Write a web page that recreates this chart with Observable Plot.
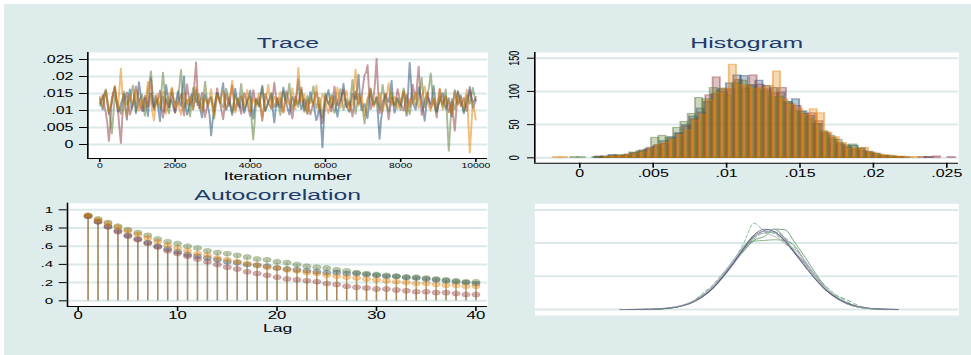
<!DOCTYPE html>
<html>
<head>
<meta charset="utf-8">
<script src="https://cdn.jsdelivr.net/npm/d3@7"></script>
<script src="https://cdn.jsdelivr.net/npm/@observablehq/plot@0.6"></script>
<style>
  html, body { margin: 0; padding: 0; background: #ffffff; }
  #root { position: relative; width: 971px; height: 355px; overflow: hidden; background: #ffffff; }
  #bg { position: absolute; left: 4px; top: 4px; width: 967px; height: 351px; background: #dfecec; }
  #stage { position: absolute; left: 0; top: 0; height: 355px; transform-origin: 0 0; }
  #stage svg { position: absolute; }
</style>
</head>
<body>
<div id="root"><div id="bg"></div><div id="stage"></div></div>
<script>
// ---------------- data ----------------
const chainNames = ["chain 1", "chain 2", "chain 3", "chain 4"];
const chainColors = ["#1a476f", "#90353b", "#55752f", "#e37e00"];

// Trace: value (in units of 0.001) every traceStep iterations, iterations 0..10000
const traceStep = 40;
const traceBlue = [
  13.5,11.6,10.2,14.1,15.8,12.3,8.9,10.8,12.4,15.2,17.1,13.0,9.6,9.9,11.8,13.4,14.9,11.1,7.2,13.8,
  16.3,10.5,12.0,14.6,9.1,13.2,18.4,15.0,11.2,9.7,13.7,12.1,8.3,13.9,15.1,11.8,10.6,14.4,12.9,10.1,
  6.8,12.9,14.2,9.6,17.6,15.0,10.9,13.3,12.5,10.7,9.4,13.5,15.7,12.0,11.3,16.4,20.1,11.9,8.7,10.2,
  13.1,14.8,10.4,12.6,16.2,11.5,12.7,9.8,7.9,12.2,14.6,13.0,11.1,8.4,2.6,7.0,9.8,12.9,15.3,13.6,
  12.2,15.4,18.1,12.7,10.1,11.6,13.9,10.9,8.6,12.3,16.5,13.8,11.7,10.6,14.3,12.5,9.2,11.0,12.8,14.1,
  15.9,10.9,7.5,11.2,13.3,12.4,11.0,14.7,17.4,13.1,9.9,11.3,12.6,13.5,14.8,10.2,6.4,10.8,13.6,11.9,
  10.7,14.0,16.8,13.9,12.1,10.4,8.8,12.0,14.1,12.7,11.5,15.3,19.2,13.6,10.3,11.6,13.4,10.9,9.0,12.5,
  15.5,13.1,12.3,9.4,7.1,8.6,11.9,6.3,-0.9,7.4,13.0,14.2,16.1,12.8,10.8,12.2,14.4,10.7,8.1,11.4,
  12.7,14.5,17.9,13.3,11.4,10.3,9.5,12.7,15.0,14.1,13.2,16.0,20.6,13.8,10.0,11.1,12.0,9.6,7.7,12.4,
  16.6,13.2,11.6,12.5,13.8,8.1,1.6,7.4,10.5,12.8,14.7,13.3,12.4,15.1,18.8,12.0,9.3,11.4,13.5,12.1,
  11.3,13.7,15.6,11.5,8.4,15.9,24.1,17.6,12.2,11.3,10.2,13.4,16.9,14.6,13.1,9.9,6.9,11.2,14.0,12.6,
  11.8,14.2,17.3,13.0,9.7,11.4,12.6,13.9,15.2,12.3,10.4,11.6,13.7,10.5,8.2,12.9,16.0,13.4,11.9,13.0,
  14.5,11.7,9.1,10.8,12.8,14.5,17.0,13.6,10.6,11.9,13.3];
const traceRed = [
  12.1,13.0,14.6,11.5,9.3,6.2,1.0,5.8,13.8,15.1,16.7,12.6,10.5,4.9,0.4,8.3,12.9,13.7,15.4,11.9,
  8.7,10.2,11.6,14.3,17.2,15.0,13.0,11.1,9.8,12.4,14.4,13.0,11.2,15.2,19.6,14.0,10.1,11.7,12.8,13.6,
  15.9,11.3,7.8,10.6,13.5,12.1,11.0,14.2,16.4,12.8,9.2,10.9,12.3,13.4,14.9,11.2,8.5,13.1,17.8,14.5,
  11.4,12.6,13.2,18.5,24.2,14.8,10.6,12.9,15.3,11.0,8.0,10.5,12.7,13.5,14.1,11.8,9.7,13.2,16.6,14.0,
  12.0,9.6,7.4,11.0,14.8,13.1,11.3,14.4,17.5,13.6,10.2,11.9,13.6,11.2,9.0,12.3,15.2,13.8,12.4,10.3,
  8.3,12.0,16.1,13.4,11.7,12.8,13.9,10.4,6.9,10.7,15.0,13.7,12.2,11.5,10.4,14.0,18.3,14.6,11.1,12.4,
  13.7,11.6,9.5,12.9,15.8,13.8,12.5,10.1,7.6,11.2,14.2,13.0,11.9,14.3,16.9,13.3,10.0,11.6,13.1,10.7,
  8.8,10.5,12.6,14.1,15.5,12.9,10.7,8.7,6.2,10.3,14.6,13.2,12.0,11.0,9.6,13.3,17.1,14.0,11.5,12.2,
  13.3,14.6,16.2,13.5,10.9,11.9,12.8,10.6,8.1,12.1,15.7,13.7,11.8,12.8,14.0,17.2,20.4,21.1,23.4,15.6,
  10.3,12.0,13.6,18.4,25.3,16.2,9.1,10.8,12.5,13.8,15.1,11.4,7.3,10.5,13.9,12.7,11.4,13.5,16.4,14.1,
  12.1,11.0,9.9,12.3,14.7,13.0,11.0,14.2,17.7,15.1,13.2,18.0,23.0,14.9,8.6,10.9,12.9,14.2,15.3,12.6,
  10.6,11.8,13.4,10.3,7.9,12.1,16.3,13.9,11.7,12.8,14.3,11.6,9.4,11.0,12.7,8.2,4.0,9.9,15.6,13.2,
  11.2,12.4,13.8,11.6,9.8,13.0,16.1,14.2,12.3,13.1,14.0];
const traceGreen = [
  11.4,12.5,13.9,15.0,16.3,13.2,10.0,7.1,3.2,8.8,14.5,13.4,12.2,10.6,8.9,12.0,15.6,13.7,11.7,12.4,
  13.0,15.1,17.4,13.6,9.7,11.0,12.6,13.8,14.8,11.7,8.4,12.2,16.0,18.3,21.6,15.2,11.1,12.4,13.5,11.6,
  10.3,15.9,21.2,16.0,12.8,11.1,9.1,12.3,15.2,13.4,11.9,12.8,14.0,17.5,22.0,15.1,10.7,12.0,13.3,10.9,
  8.2,12.6,16.7,14.0,12.4,13.6,14.9,12.2,10.5,14.1,18.6,13.9,11.6,12.7,13.8,10.4,7.6,11.5,15.0,13.9,
  12.9,11.8,10.8,13.5,16.5,14.6,13.1,11.4,9.3,11.9,14.6,13.0,11.5,14.2,17.9,13.6,10.2,11.3,12.7,13.5,
  14.2,6.3,1.4,7.0,13.6,12.4,11.3,14.1,16.8,12.9,9.8,11.0,12.0,13.6,15.3,12.7,10.9,12.3,13.7,11.1,
  8.6,12.3,15.9,13.7,12.3,14.8,18.0,13.4,10.4,11.9,13.2,12.0,11.0,13.6,16.2,12.9,9.5,11.9,14.4,13.0,
  12.1,14.5,17.2,13.3,10.6,12.1,13.9,10.7,7.9,11.8,15.1,13.2,11.8,13.0,14.7,11.8,9.2,11.0,12.6,14.1,
  16.4,13.0,10.1,11.9,13.4,12.0,11.2,15.0,19.1,13.8,9.0,11.8,14.9,13.5,12.5,9.9,6.1,9.7,13.0,14.3,
  15.7,13.2,11.5,12.7,14.2,12.1,10.4,13.9,17.6,14.5,12.0,10.9,9.6,12.4,15.4,13.1,11.3,12.6,13.8,11.7,
  10.0,13.1,16.6,14.2,12.7,10.9,8.8,11.6,14.5,13.0,11.6,12.2,13.1,15.9,19.7,14.6,10.8,12.7,15.0,17.2,
  21.0,15.8,12.2,10.8,9.4,11.9,14.1,12.5,11.0,13.6,16.3,6.8,-1.9,5.4,13.5,12.0,10.3,13.1,15.8,14.0,
  12.4,11.2,9.7,12.1,14.6,13.3,11.9,14.2,16.7,14.5,12.8];
const traceOrange = [
  14.2,12.7,11.0,13.4,15.9,12.6,9.4,11.3,13.1,15.0,17.3,13.9,10.2,16.1,22.4,14.8,12.5,10.1,8.1,11.6,
  14.7,13.0,11.8,14.4,16.2,12.5,9.9,11.8,13.4,12.0,10.6,14.7,18.5,15.2,12.2,9.5,7.0,11.3,14.9,12.9,
  11.5,13.6,15.6,12.2,9.0,11.4,13.8,15.3,16.9,13.3,10.8,11.8,12.6,10.4,8.7,12.3,15.3,13.7,11.9,13.1,
  14.0,12.2,10.1,13.6,17.0,14.6,12.8,11.1,9.6,11.9,13.5,12.5,11.2,13.9,16.4,12.1,8.4,11.7,14.6,13.5,
  12.3,14.1,15.8,12.9,10.5,11.9,13.0,15.6,18.8,13.4,9.3,11.0,12.9,13.7,14.5,12.8,11.4,13.6,16.1,12.6,
  9.7,11.8,13.6,12.5,11.1,13.9,15.2,11.4,8.0,10.6,12.7,14.9,17.7,13.8,10.9,12.5,14.1,13.1,12.0,13.8,
  15.5,12.0,9.2,11.5,13.3,12.4,11.6,13.9,16.6,13.2,10.3,16.1,22.6,16.4,12.4,13.5,14.8,11.6,8.9,11.7,
  13.9,12.8,11.4,14.2,17.5,13.6,10.0,12.7,15.0,13.9,12.8,10.8,9.1,11.5,14.3,12.9,11.7,14.0,16.8,13.2,
  10.7,12.1,13.2,14.3,15.9,12.6,9.8,11.1,12.1,16.4,22.1,15.8,11.3,12.9,14.6,11.2,8.3,11.1,13.7,14.8,
  16.3,13.5,10.9,11.8,12.6,13.7,15.1,12.2,9.5,11.4,13.0,15.2,18.1,14.4,11.6,12.9,14.2,12.3,10.4,11.9,
  12.9,14.2,16.0,12.4,9.0,11.3,13.4,12.6,11.8,13.7,15.4,12.8,10.6,12.2,14.0,15.3,17.2,14.6,12.3,11.0,
  9.8,11.7,13.7,12.6,11.1,13.8,16.5,13.3,10.2,12.1,14.4,13.3,12.5,10.7,8.6,12.0,15.7,13.6,11.6,12.9,
  13.9,12.3,10.8,13.5,16.2,6.4,-2.4,5.1,12.7,9.9,7.2];
const traceXTicks = [0, 2000, 4000, 6000, 8000, 10000];
const traceYTicks = [0, 0.005, 0.01, 0.015, 0.02, 0.025];

// Histogram: counts per bin of width histBinWidth, starting at each chain's histStart
const histBinWidth = 0.0005;
const histStart = [-0.0025, -0.0024, -0.0026, -0.0023];
const histBlue = [0,0,0,0,0,0,0,1,2,4, 2,3,7,9,13,17,25,31,37,49, 62,74,84,96,104,112,124,123,109,116,
  108,105,98,84,88,70,63,51,38,30, 22,17,18,14,9,6,3,2,1,1, 0,0,1,0,0,0];
const histRed = [0,0,0,0,0,0,0,2,1,3, 3,5,6,11,15,19,21,28,36,47, 58,68,94,121,99,103,117,104,124,110,
  103,97,105,81,78,66,67,55,36,27, 20,15,12,10,7,4,2,2,1,0, 0,1,1,2,0,1];
const histGreen = [0,0,0,0,1,1,0,1,1,2, 4,4,8,10,12,30,33,30,45,54, 66,90,88,105,102,94,112,116,109,103,
  100,91,92,84,70,69,59,50,40,33, 27,19,20,14,8,6,3,2,1,0, 0,0,0,0,0,0];
const histOrange = [0,1,1,0,0,0,0,0,1,2, 2,4,6,8,13,18,22,27,34,41, 56,64,86,97,104,140,110,108,103,105,
  108,130,88,80,74,64,73,67,38,31, 22,14,13,15,8,5,4,2,2,1, 1,0,0,0,0,0];
const histXTicks = [0, 0.005, 0.01, 0.015, 0.02, 0.025];
const histYTicks = [0, 50, 100, 150];

// Autocorrelation, lags 1..40
const acfBlue = [0.93,0.87,0.82,0.77,0.72,0.68,0.64,0.60,0.57,0.54,0.51,0.49,0.47,0.45,0.43,0.42,0.40,0.39,0.38,0.36,
  0.35,0.34,0.33,0.32,0.31,0.31,0.30,0.30,0.29,0.28,0.27,0.27,0.26,0.25,0.24,0.23,0.22,0.21,0.20,0.19];
const acfRed = [0.93,0.87,0.81,0.76,0.71,0.67,0.63,0.59,0.55,0.52,0.49,0.46,0.43,0.40,0.37,0.35,0.32,0.30,0.28,0.26,
  0.24,0.23,0.22,0.21,0.19,0.18,0.16,0.15,0.14,0.13,0.13,0.12,0.11,0.10,0.10,0.09,0.09,0.08,0.07,0.07];
const acfGreen = [0.94,0.90,0.86,0.82,0.78,0.75,0.72,0.68,0.65,0.63,0.60,0.58,0.55,0.53,0.52,0.50,0.48,0.46,0.45,0.43,
  0.42,0.40,0.38,0.37,0.36,0.34,0.33,0.31,0.30,0.29,0.28,0.27,0.26,0.26,0.25,0.24,0.23,0.22,0.21,0.21];
const acfOrange = [0.94,0.89,0.85,0.81,0.77,0.73,0.69,0.65,0.61,0.58,0.55,0.52,0.50,0.47,0.45,0.43,0.41,0.39,0.37,0.36,
  0.34,0.33,0.31,0.30,0.28,0.27,0.26,0.25,0.24,0.23,0.22,0.21,0.20,0.19,0.19,0.18,0.17,0.17,0.16,0.16];
const acfXTicks = [0, 10, 20, 30, 40];
const acfYTicks = [0, 0.2, 0.4, 0.6, 0.8, 1];

// Density curves
const densX = [-0.0025,-0.0015,-0.0005,0.0005,0.0015,0.0025,0.0035,0.0045,0.0055,0.0065,0.0075,0.0085,0.0095,0.0105,
  0.0115,0.0125,0.0135,0.0145,0.0155,0.0165,0.0175,0.0185,0.0195,0.0205,0.0215,0.0225,0.0235,0.0245];
const densGray1 = [0,0.1,0.3,0.6,1.4,3.0,6.0,11.5,21,34,52,73,94,110,118,116,104,86,66,46,29,17,9,4.5,2,0.8,0.3,0.1];
const densGray2 = [0,0.1,0.2,0.5,1.2,2.4,5.2,10.5,19,32,49,69,90,109,119,121,107,85,70,50,30,17,9,4.5,2.0,1.0,0.4,0.1];
const densGray3 = [0,0,0.2,0.4,1.0,2.8,5.8,11.5,21,35,54,74,95,111,115,110,100,90,72,49,31,19,10,5,2.2,0.9,0.3,0.1];
const densGray4 = [0,0.1,0.2,0.4,1.1,2.5,5.3,10.5,19.5,32,50,70,92,112,121,117,103,84,64,45,29,18,10,5,2.3,1.0,0.4,0.2];
const densGreen1 = [0,0,0.1,0.3,1.0,2.4,5.5,11,20,32,50,70,88,104,110,121,120,100,78,54,33,19,9,4,1.8,0.7,0.2,0];
const densGreen2 = [0,0,0.2,0.5,1.3,3,6,12,22,35,53,74,93,103,104,105,104,95,72,50,31,18,9,4,1.5,0.5,0.1,0];
const densDash1 = [0,0,0.1,0.3,1,2.5,5.5,11,21,34,52,73,100,130,118,114,100,85,68,50,35,22,12,5,2,0.6,0.2,0];
const densDash2 = [0,0,0.1,0.4,1.1,2.8,6,12,24,37,55,72,89,106,116,117,108,93,71,48,31,21,15,7,2.5,0.8,0.2,0];
const densYGrid = [0, 50, 100, 150];

// ---------------- styling ----------------
const S = 1.6;                 // horizontal stretch of the whole graph
const FONT = "'Liberation Sans', Arial, Helvetica, sans-serif";
const GRID = "#dce9ea";
const TITLE = "#1c3b6b";
const stage = document.getElementById("stage");
stage.style.width = (971 / S) + "px";
stage.style.transform = `scaleX(${S})`;

const style = {background: "transparent", fontFamily: FONT, color: "black", overflow: "visible"};
const stataFmt = d => d === 0 ? "0" : String(+d.toFixed(6)).replace(/^0\./, ".").replace(/^-0\./, "-.");

function place(svg, left, top) {
  svg.style.left = left + "px";
  svg.style.top = top + "px";
  stage.appendChild(svg);
}

// ---------------- Trace ----------------
{
  const xd = [-319, 10319], yd = [-0.00412, 0.02706];
  const chains = [traceBlue, traceRed, traceGreen, traceOrange];
  const svg = Plot.plot({
    width: 320, height: 175, marginLeft: 54.4, marginRight: 15.6, marginTop: 32, marginBottom: 37,
    style,
    x: {domain: xd, axis: null},
    y: {domain: yd, axis: null},
    marks: [
      Plot.frame({fill: "white", stroke: "none"}),
      Plot.ruleY(traceYTicks, {stroke: GRID, strokeWidth: 2}),
      ...chains.map((vals, c) => Plot.line(vals.map((v, i) => ({iter: i * traceStep, v: v / 1000})),
        {x: "iter", y: "v", stroke: chainColors[c], strokeOpacity: 0.5, strokeWidth: 1.2})),
      Plot.ruleX([xd[0]], {stroke: "black", strokeWidth: 1}),
      Plot.ruleY([yd[0]], {stroke: "black", strokeWidth: 1}),
      Plot.axisY(traceYTicks, {tickSize: 5, tickPadding: 4, fontSize: 10, tickFormat: stataFmt, label: null}),
      Plot.axisX(traceXTicks, {tickSize: 4, tickPadding: 1, fontSize: 6.5, tickFormat: d => String(d), label: null}),
      Plot.text(["Iteration number"], {frameAnchor: "bottom", lineAnchor: "middle", text: d => d, dy: 17.5, fontSize: 11}),
      Plot.text(["Trace"], {frameAnchor: "top", lineAnchor: "middle", text: d => d, dy: -9, fontSize: 15.5, fill: TITLE})
    ]
  });
  place(svg, 0, 20);
}

// ---------------- Histogram ----------------
{
  const xd = [-0.003066, 0.025817], yd = [-8.1, 158.6];
  const frameW = 297 - 23.75 - 8.25;
  const labelX = xd[0] - 12.5 * (xd[1] - xd[0]) / frameW;
  const chains = [histBlue, histRed, histGreen, histOrange];
  const svg = Plot.plot({
    width: 297, height: 165, marginLeft: 23.75, marginRight: 8.25, marginTop: 32, marginBottom: 22.3,
    style,
    x: {domain: xd, axis: null},
    y: {domain: yd, axis: null},
    marks: [
      Plot.frame({fill: "white", stroke: "none"}),
      Plot.ruleY(histYTicks, {stroke: GRID, strokeWidth: 2}),
      ...chains.map((counts, c) => Plot.rect(
        counts.map((n, k) => ({x1: histStart[c] + k * histBinWidth, x2: histStart[c] + (k + 1) * histBinWidth, n}))
              .filter(d => d.n > 0),
        {x1: "x1", x2: "x2", y1: 0, y2: "n", fill: chainColors[c], fillOpacity: 0.3,
         stroke: chainColors[c], strokeOpacity: 0.45, strokeWidth: 1.1})),
      Plot.ruleX([xd[0]], {stroke: "black", strokeWidth: 1}),
      Plot.ruleY([yd[0]], {stroke: "black", strokeWidth: 1}),
      Plot.axisY(histYTicks, {tickSize: 4.4, tickFormat: () => "", label: null}),
      Plot.text(histYTicks, {x: labelX, y: d => d, text: d => String(d), rotate: -90, textAnchor: "middle", fontSize: 9}),
      Plot.axisX(histXTicks, {tickSize: 5, tickPadding: 2, fontSize: 10, tickFormat: stataFmt, label: null}),
      Plot.text(["Histogram"], {frameAnchor: "top", lineAnchor: "middle", text: d => d, dy: -9, fontSize: 15.5, fill: TITLE})
    ]
  });
  place(svg, 310, 20);
}

// ---------------- Autocorrelation ----------------
{
  const xd = [-1.07, 41.2], yd = [-0.0626, 1.0725];
  const chains = [acfBlue, acfRed, acfGreen, acfOrange];
  const marks = [
    Plot.frame({fill: "white", stroke: "none"}),
    Plot.ruleY(acfYTicks, {stroke: GRID, strokeWidth: 2})
  ];
  chains.forEach((vals, c) => {
    const rows = vals.map((v, i) => ({lag: i + 1, v}));
    marks.push(Plot.ruleX(rows, {x: "lag", y1: 0, y2: "v", stroke: chainColors[c], strokeOpacity: 0.3, strokeWidth: 0.9}));
    marks.push(Plot.dot(rows, {x: "lag", y: "v", r: 2.5, fill: chainColors[c], fillOpacity: 0.4,
      stroke: chainColors[c], strokeOpacity: 0.3, strokeWidth: 0.7}));
  });
  marks.push(
    Plot.ruleX([xd[0]], {stroke: "black", strokeWidth: 1}),
    Plot.ruleY([yd[0]], {stroke: "black", strokeWidth: 1}),
    Plot.axisY(acfYTicks, {tickSize: 5, tickPadding: 4, fontSize: 9.5, tickFormat: stataFmt, label: null}),
    Plot.axisX(acfXTicks, {tickSize: 5, tickPadding: 0.5, fontSize: 10.5, tickFormat: d => String(d), label: null}),
    Plot.text(["Lag"], {frameAnchor: "bottom", lineAnchor: "middle", text: d => d, dy: 21.5, fontSize: 11}),
    Plot.text(["Autocorrelation"], {frameAnchor: "top", lineAnchor: "middle", text: d => d, dy: -8.4, fontSize: 15.5, fill: TITLE})
  );
  const svg = Plot.plot({
    width: 320, height: 160, marginLeft: 41.7, marginRight: 15.6, marginTop: 22.7, marginBottom: 34,
    style,
    x: {domain: xd, axis: null},
    y: {domain: yd, axis: null},
    marks
  });
  place(svg, 0, 180);
}

// ---------------- Density ----------------
{
  const xd = [-0.0108, 0.0304], yd = [-9.0, 159.2];
  const curves = [
    {y: densGreen1, stroke: "#2f7a3b", dash: null, w: 0.6},
    {y: densGreen2, stroke: "#4f8d4f", dash: null, w: 0.6},
    {y: densDash1, stroke: "#44a055", dash: "3,2", w: 0.6},
    {y: densDash2, stroke: "#3b8f4a", dash: "3,2", w: 0.6},
    {y: densGray1, stroke: "#a3a7b8", dash: null, w: 1},
    {y: densGray2, stroke: "#8b90a6", dash: null, w: 0.9},
    {y: densGray3, stroke: "#b6b9c7", dash: null, w: 1},
    {y: densGray4, stroke: "#4c5168", dash: null, w: 0.7}
  ];
  const svg = Plot.plot({
    width: 297, height: 145, marginLeft: 23.75, marginRight: 8.25, marginTop: 18.3, marginBottom: 15,
    style,
    x: {domain: xd, axis: null},
    y: {domain: yd, axis: null},
    marks: [
      Plot.frame({fill: "white", stroke: "none"}),
      Plot.ruleY(densYGrid, {stroke: GRID, strokeWidth: 2}),
      ...curves.map(cv => Plot.line(densX.map((x, i) => ({x, d: cv.y[i]})),
        {x: "x", y: "d", stroke: cv.stroke, strokeWidth: cv.w, strokeOpacity: 0.85,
         strokeDasharray: cv.dash, curve: "monotone-x"}))
    ]
  });
  place(svg, 310, 185);
}
</script>
</body>
</html>
